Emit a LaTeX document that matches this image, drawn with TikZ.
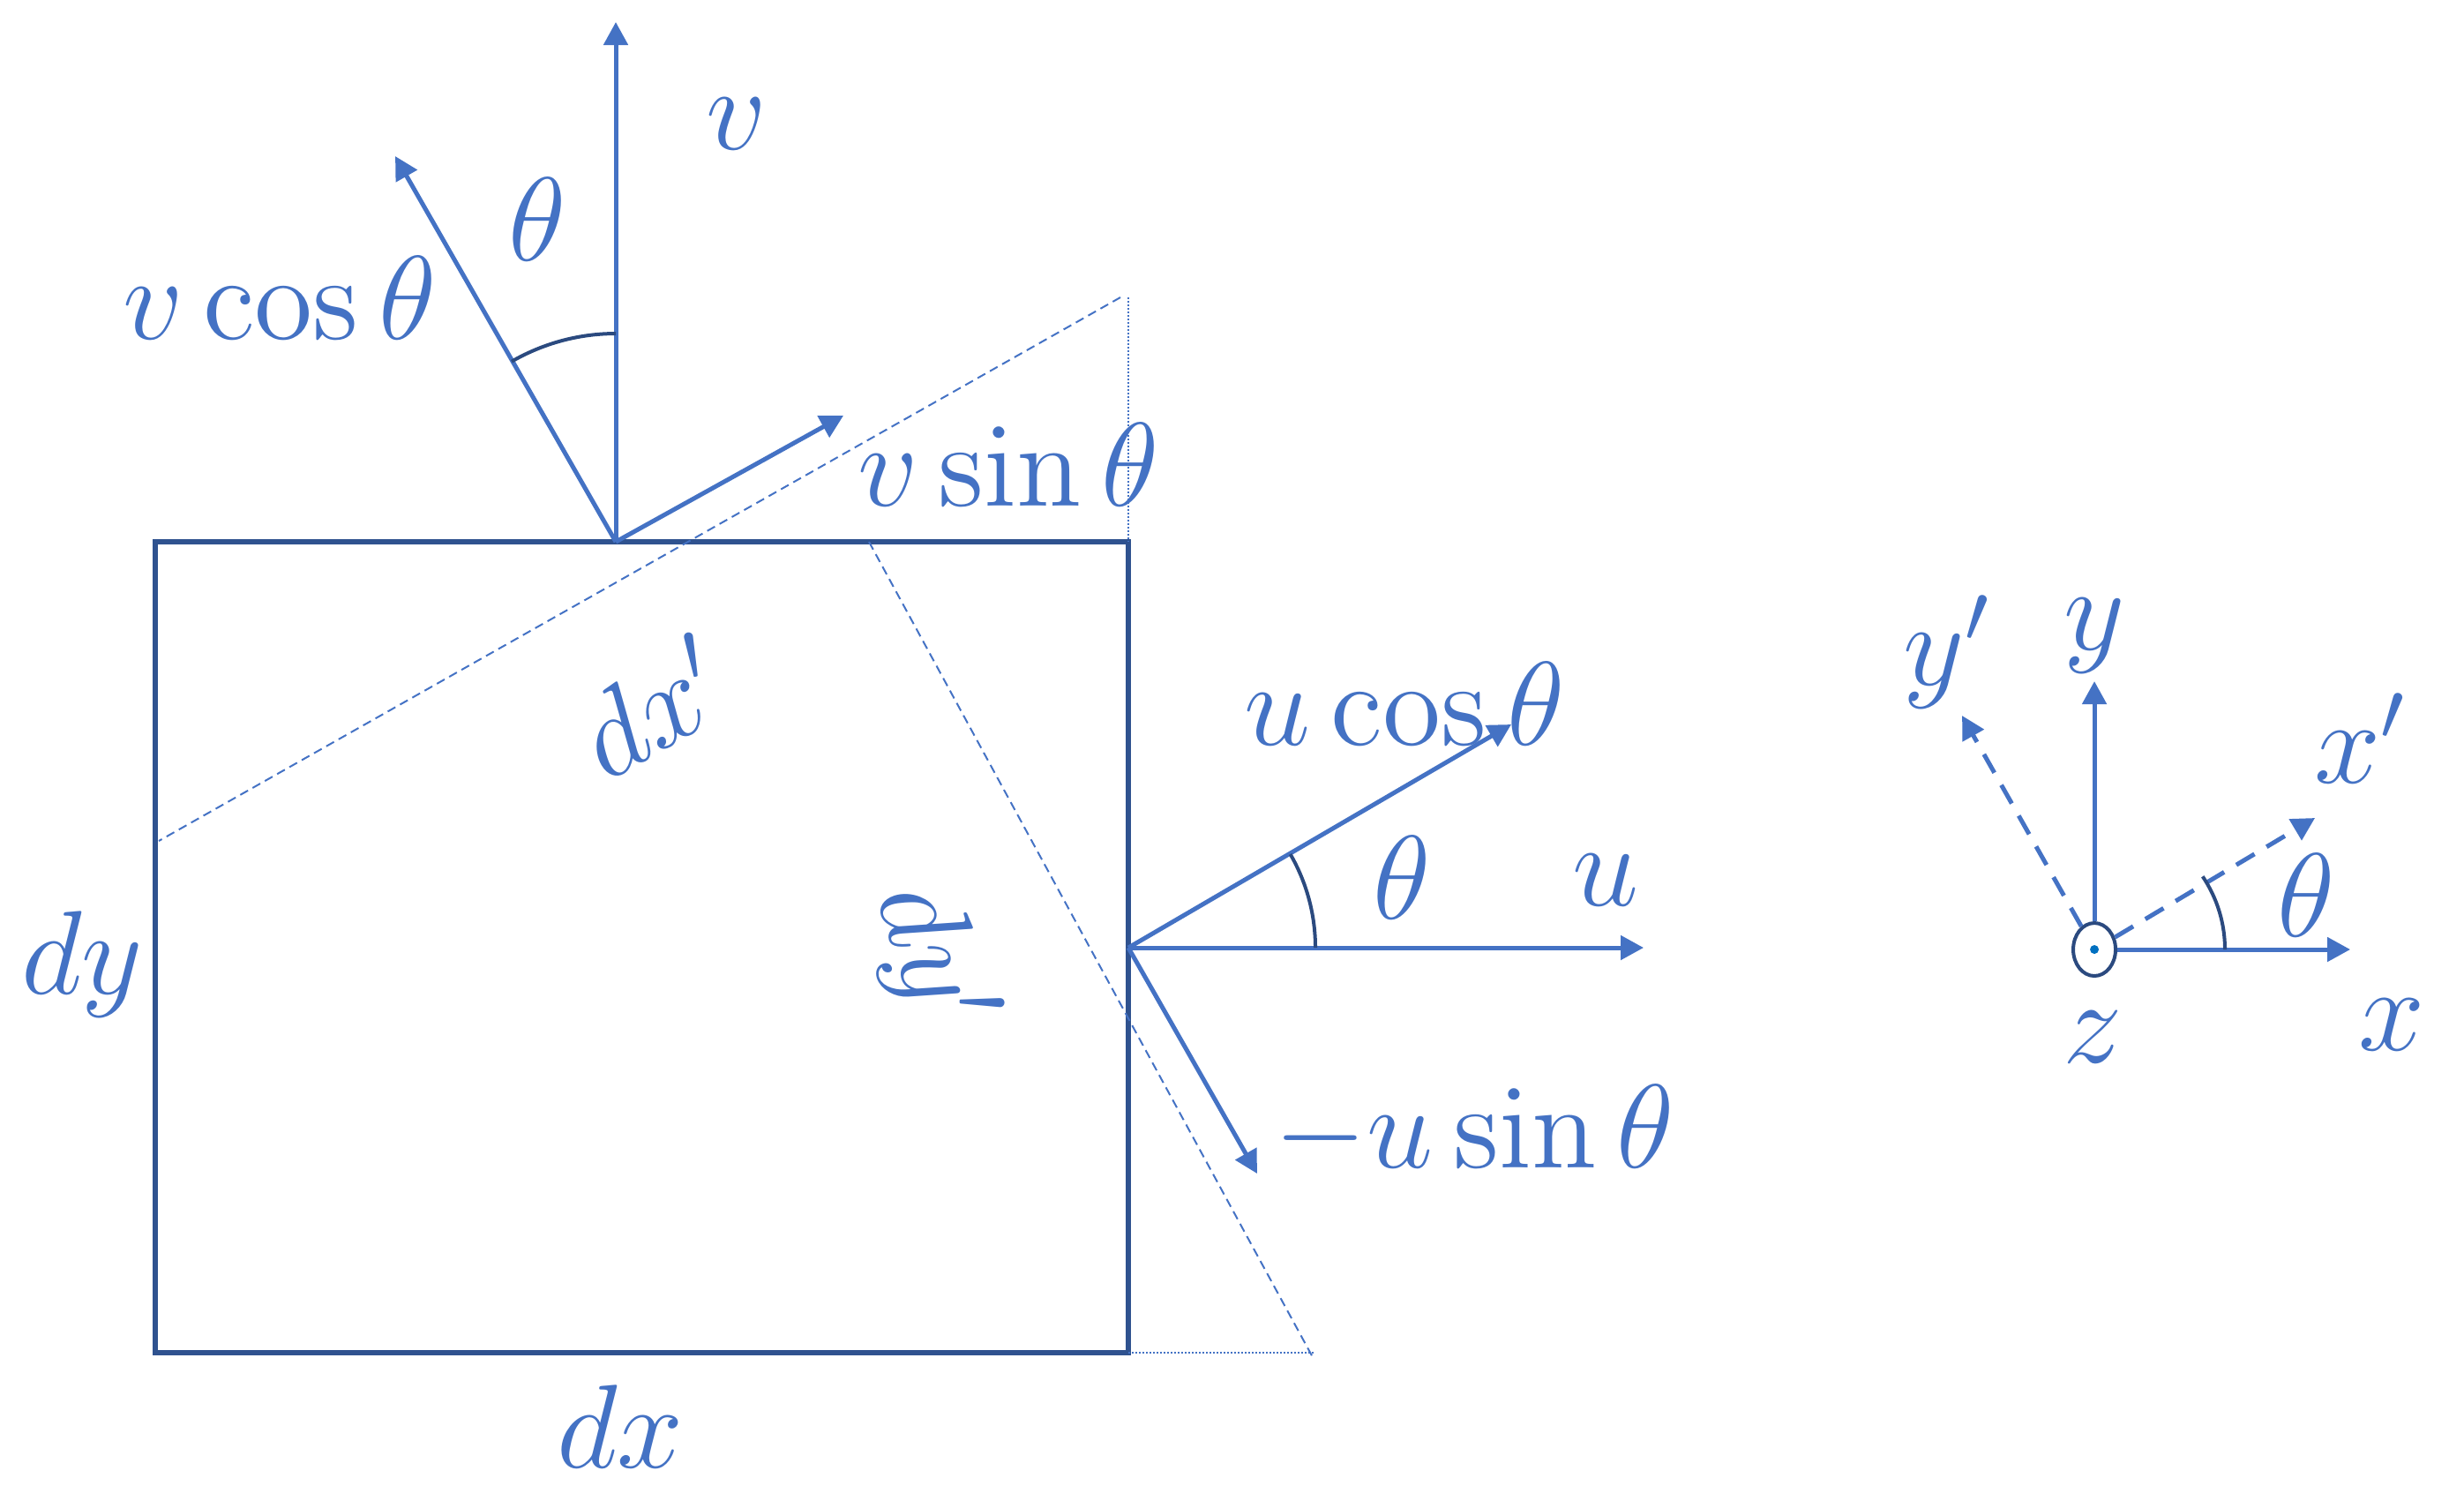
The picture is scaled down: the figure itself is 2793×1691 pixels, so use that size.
\RequirePackage{fix-cm}
\documentclass[tikz,border=0pt]{standalone}
\usetikzlibrary{arrows.meta,shapes.geometric}
\definecolor{lblue}{HTML}{4472C4}
\definecolor{navy}{HTML}{2F528F}
\definecolor{darc}{HTML}{2B4A7F}
\definecolor{dotblue}{HTML}{0070C0}
\tikzset{
  vec/.style={lblue, line width=0.5pt, -{Triangle[length=2.6pt,width=2.7pt]}},
  thindash/.style={lblue, line width=0.2pt, dash pattern=on 1pt off 0.6pt},
  thindot/.style={lblue, line width=0.15pt, dash pattern=on 0.2pt off 0.2pt},
  axdash/.style={lblue, line width=0.5pt, dash pattern=on 2.4pt off 1.6pt, -{Triangle[length=2.6pt,width=2.7pt]}},
  anglearc/.style={darc, line width=0.4pt},
  lab/.style={lblue, inner sep=0pt, font=\fontsize{13.5}{16}\selectfont},
}
\begin{document}
\begin{tikzpicture}[x=0.1pt,y=-0.1pt]
\useasboundingbox (0,0) rectangle (2793,1691);
% rectangle corners
\coordinate (TL) at (176,614);
\coordinate (TR) at (1279,614);
\coordinate (BR) at (1279,1533);
\coordinate (BL) at (176,1533);
\draw[navy, line width=0.6pt] (TL) -- (TR) -- (BR) -- (BL) -- cycle;
% construction lines
\coordinate (d1a) at (1270,337);
\coordinate (d1b) at (180,953);
\draw[thindash] (d1a) -- (d1b);
\coordinate (d2a) at (985,614);
\coordinate (d2b) at (1489,1540);
\draw[thindash] (d2a) -- (d2b);
\coordinate (vtop) at (1279,337);
\draw[thindot] (vtop) -- (TR);
\coordinate (bend) at (1489,1533);
\draw[thindot] (BR) -- (bend);
% top vectors
\coordinate (O1) at (698,614);
\coordinate (vtip) at (698,25);
\coordinate (vctip) at (448,177);
\coordinate (vstip) at (956,471);
\draw[vec] (O1) -- (vtip);
\draw[vec] (O1) -- (vctip);
\draw[vec] (O1) -- (vstip);
\draw[anglearc] (O1) ++(90:23.6pt) arc[start angle=90,end angle=120,radius=23.6pt];
% right vectors
\coordinate (O2) at (1279,1074);
\coordinate (utip) at (1863,1074);
\coordinate (uctip) at (1713,821);
\coordinate (ustip) at (1425,1330);
\draw[vec] (O2) -- (utip);
\draw[vec] (O2) -- (uctip);
\draw[vec] (O2) -- (ustip);
\draw[anglearc] (O2) ++(0:21.2pt) arc[start angle=0,end angle=30,radius=21.2pt];
% coordinate system
\coordinate (O3) at (2374,1076);
\node[draw=darc, line width=0.4pt, ellipse, minimum width=4.8pt, minimum height=6.0pt, inner sep=0pt] (zc) at (O3) {};
\fill[dotblue] (O3) circle[radius=0.5pt];
\coordinate (ytip) at (2374,772);
\coordinate (xtip) at (2664,1076);
\coordinate (xptip) at (2624,927);
\coordinate (yptip) at (2224,811);
\draw[vec] (zc.north) -- (ytip);
\draw[vec] (zc.east) -- (xtip);
\draw[axdash] (zc) -- (xptip);
\draw[axdash] (zc) -- (yptip);
\draw[anglearc] (O3) ++(0:14.8pt) arc[start angle=0,end angle=34,radius=14.8pt];
% labels
\node[lab] (lv) at (835,140) {$v$};
\node[lab] (lth1) at (609,249) {$\theta$};
\node[lab] (lvc) at (317,338) {$v\cos\theta$};
\node[lab] (lvs) at (1143,527) {$v\sin\theta$};
\node[lab, rotate=30] (ldxp) at (738,800) {$dx'$};
\node[lab, rotate=-72] (ldyp) at (1055,1085) {$dy'$};
\node[lab] (ldy) at (93,1093) {$dy$};
\node[lab] (ldx) at (703,1617) {$dx$};
\node[lab] (luc) at (1592,798) {$u\cos\theta$};
\node[lab] (lth2) at (1589,995) {$\theta$};
\node[lab] (lu) at (1820,997) {$u$};
\node[lab] (lus) at (1671,1282) {$-u\sin\theta$};
\node[lab] (lyp) at (2208,739) {$y'$};
\node[lab] (ly) at (2374,721) {$y$};
\node[lab] (lxp) at (2677,837) {$x'$};
\node[lab] (lth3) at (2614,1015) {$\theta$};
\node[lab] (lz) at (2372,1175) {$z$};
\node[lab] (lx) at (2711,1161) {$x$};
\end{tikzpicture}
\end{document}
